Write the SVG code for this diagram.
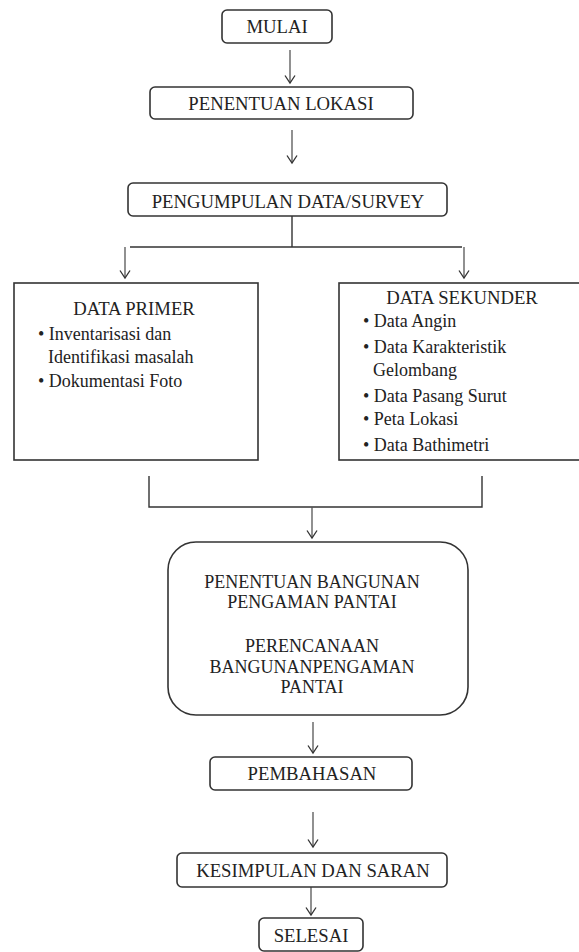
<svg xmlns="http://www.w3.org/2000/svg" width="579" height="952" viewBox="0 0 579 952">
<defs>
<marker id="ah" markerWidth="10" markerHeight="12" refX="8.5" refY="5.5" orient="auto" markerUnits="userSpaceOnUse" viewBox="0 0 10 11">
<path d="M1,0.5 L8.5,5.5 L1,10.5" fill="none" stroke="#333" stroke-width="1.3"/>
</marker>
</defs>
<style>
.box{fill:#fff;stroke:#333;stroke-width:1.6}
.t{font-family:'Liberation Serif','Times New Roman','DejaVu Serif',serif;font-size:18px;fill:#222}
.h{font-size:18.7px}
.c{text-anchor:middle}
.ln{fill:none;stroke:#333;stroke-width:1.4}
.ar{fill:none;stroke:#555;stroke-width:1.3;marker-end:url(#ah)}
</style>
<rect width="579" height="952" fill="#fff"/>
<g id="connectors">
<line class="ar" x1="290" y1="50" x2="290" y2="83"/>
<line class="ar" x1="292" y1="130" x2="292" y2="163"/>
<path class="ln" d="M292,216 V247 M130,247 H462"/>
<line class="ar" x1="125" y1="247" x2="125" y2="278"/>
<line class="ar" x1="464" y1="247" x2="464" y2="278"/>
<path class="ln" d="M149,476 V507 H482 V476"/>
<line class="ar" x1="312" y1="507" x2="312" y2="538"/>
<line class="ar" x1="313" y1="722" x2="313" y2="753"/>
<line class="ar" x1="313" y1="812" x2="313" y2="847"/>
<line class="ar" x1="311" y1="887" x2="311" y2="915"/>
</g>
<g font-family="Liberation Serif, Times New Roman, serif">
<g id="mulai">
<rect class="box" x="222" y="10" width="110" height="33" rx="5"/>
<text class="t h c" x="277" y="33">MULAI</text>
</g>
<g id="penentuan-lokasi">
<rect class="box" x="150" y="87" width="263" height="32" rx="5"/>
<text class="t h c" x="281" y="110">PENENTUAN  LOKASI</text>
</g>
<g id="pengumpulan">
<rect class="box" x="128" y="183" width="319" height="33" rx="5"/>
<text class="t h c" x="288" y="208">PENGUMPULAN DATA/SURVEY</text>
</g>
<g id="data-primer">
<rect class="box" x="14" y="283" width="244" height="177"/>
<text class="t h c" x="134" y="315">DATA PRIMER</text>
<text class="t" x="38" y="340">• Inventarisasi dan</text>
<text class="t" x="48" y="363">Identifikasi masalah</text>
<text class="t" x="38" y="387">• Dokumentasi Foto</text>
</g>
<g id="data-sekunder">
<rect class="box" x="339" y="283" width="245" height="177"/>
<text class="t h c" x="462" y="304">DATA SEKUNDER</text>
<text class="t" x="363" y="327">• Data Angin</text>
<text class="t" x="363" y="353">• Data Karakteristik</text>
<text class="t" x="373" y="376">Gelombang</text>
<text class="t" x="363" y="402">• Data Pasang Surut</text>
<text class="t" x="363" y="425">• Peta Lokasi</text>
<text class="t" x="363" y="451">• Data Bathimetri</text>
</g>
<g id="penentuan-bangunan">
<rect class="box" x="168" y="542" width="300" height="173" rx="28"/>
<text class="t c" x="312" y="588">PENENTUAN BANGUNAN</text>
<text class="t c" x="312" y="608">PENGAMAN PANTAI</text>
<text class="t c" x="312" y="652">PERENCANAAN</text>
<text class="t c" x="312" y="673">BANGUNANPENGAMAN</text>
<text class="t c" x="312" y="693">PANTAI</text>
</g>
<g id="pembahasan">
<rect class="box" x="210" y="757" width="202" height="33" rx="5"/>
<text class="t h c" x="312" y="780">PEMBAHASAN</text>
</g>
<g id="kesimpulan">
<rect class="box" x="177" y="853" width="270" height="34" rx="5"/>
<text class="t h c" x="313" y="877">KESIMPULAN DAN SARAN</text>
</g>
<g id="selesai">
<rect class="box" x="259" y="918" width="104" height="33" rx="5"/>
<text class="t h c" x="311" y="942">SELESAI</text>
</g>
</g>
</svg>
